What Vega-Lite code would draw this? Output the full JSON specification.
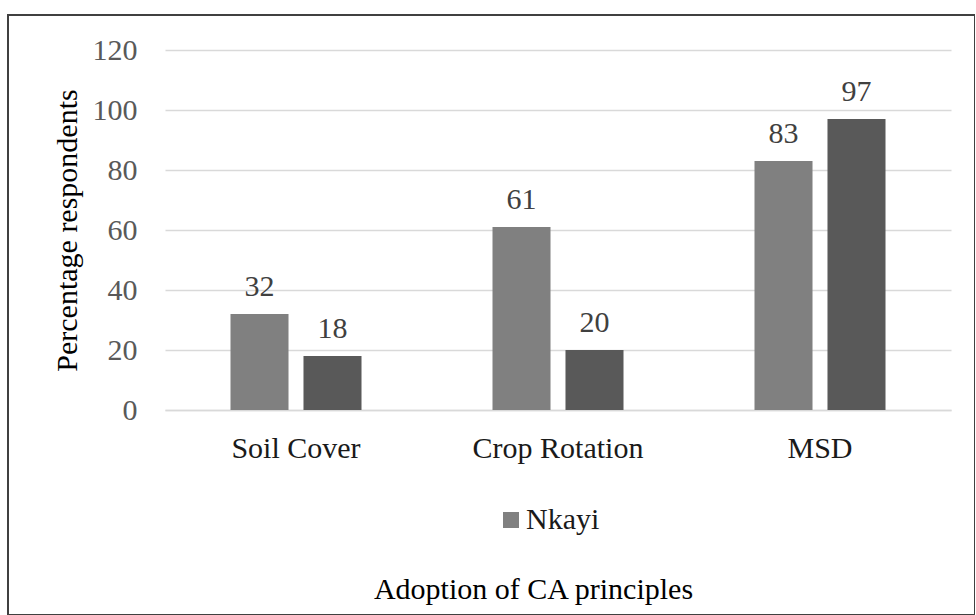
{
  "$schema": "https://vega.github.io/schema/vega-lite/v6.json",
  "autosize": {"type": "none"},
  "padding": {"left": 8, "top": 15, "right": 0, "bottom": 0},
  "width": 967,
  "height": 600,
  "background": "white",
  "config": {
    "view": {"stroke": "#404040", "strokeWidth": 2},
    "font": "Liberation Serif",
    "axis": {"labelFont": "Liberation Serif", "titleFont": "Liberation Serif"},
    "legend": {"labelFont": "Liberation Serif"},
    "text": {"font": "Liberation Serif"}
  },
  "data": {
    "values": [
      {"principle": "Soil Cover", "district": "Nkayi", "percent": 32},
      {"principle": "Soil Cover", "district": "Other district", "percent": 18},
      {"principle": "Crop Rotation", "district": "Nkayi", "percent": 61},
      {"principle": "Crop Rotation", "district": "Other district", "percent": 20},
      {"principle": "MSD", "district": "Nkayi", "percent": 83},
      {"principle": "MSD", "district": "Other district", "percent": 97}
    ]
  },
  "encoding": {
    "x": {
      "field": "principle",
      "type": "nominal",
      "sort": ["Soil Cover", "Crop Rotation", "MSD"],
      "scale": {"range": [157, 943], "paddingInner": 0.5, "paddingOuter": 0.25},
      "axis": {
        "title": "Adoption of CA principles",
        "offset": -205,
        "labelAngle": 0,
        "labelFont": "Liberation Serif",
        "labelFontSize": 30,
        "labelColor": "#1a1a1a",
        "labelBaseline": "top",
        "labelPadding": 23,
        "ticks": false,
        "domainColor": "#d9d9d9",
        "domainWidth": 1.5,
        "titleFont": "Liberation Serif",
        "titleFontSize": 30,
        "titleFontWeight": "normal",
        "titleColor": "#000000",
        "titleBaseline": "alphabetic",
        "titleAlign": "center",
        "titleX": 525,
        "titleY": 188
      }
    },
    "xOffset": {
      "field": "district",
      "type": "nominal",
      "sort": ["Nkayi", "Other district"],
      "scale": {"paddingInner": 0.205, "paddingOuter": 0}
    },
    "y": {
      "field": "percent",
      "type": "quantitative",
      "scale": {"domain": [0, 120], "range": [395, 35], "nice": false},
      "axis": {
        "title": "Percentage respondents",
        "offset": -157,
        "values": [0, 20, 40, 60, 80, 100, 120],
        "domain": false,
        "ticks": false,
        "grid": true,
        "gridColor": "#d9d9d9",
        "gridWidth": 1.5,
        "labelFont": "Liberation Serif",
        "labelFontSize": 30,
        "labelColor": "#595959",
        "labelPadding": 28,
        "titleFont": "Liberation Serif",
        "titleFontSize": 30,
        "titleFontWeight": "normal",
        "titleColor": "#000000",
        "titleBaseline": "alphabetic",
        "titleX": -89
      }
    }
  },
  "layer": [
    {
      "mark": {"type": "bar"},
      "encoding": {
        "color": {
          "field": "district",
          "type": "nominal",
          "scale": {"domain": ["Nkayi", "Other district"], "range": ["#808080", "#595959"]},
          "legend": {
            "title": null,
            "values": ["Nkayi"],
            "orient": "none",
            "legendX": 488,
            "legendY": 490,
            "padding": 0,
            "symbolType": "square",
            "symbolSize": 256,
            "symbolStrokeWidth": 0,
            "labelFont": "Liberation Serif",
            "labelFontSize": 30,
            "labelColor": "#1a1a1a",
            "labelOffset": 0
          }
        }
      }
    },
    {
      "mark": {"type": "text", "baseline": "alphabetic", "dy": -18, "font": "Liberation Serif", "fontSize": 30, "color": "#404040"},
      "encoding": {
        "text": {"field": "percent", "type": "quantitative"}
      }
    }
  ]
}
